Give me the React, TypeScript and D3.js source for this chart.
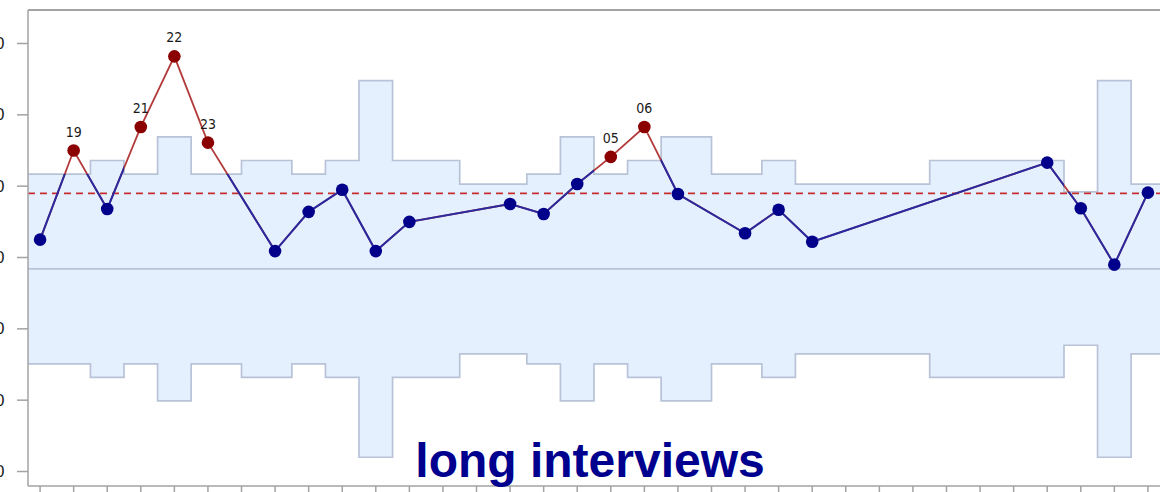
import React from 'react';
import * as d3 from 'd3';

// x position (period index) of each plotted point
const periodIndex = [0, 1, 2, 3, 4, 5, 7, 8, 9, 10, 11, 14, 15, 16, 17, 18, 19, 21, 22, 23, 30, 31, 32, 33];
// observed values
const values = [42.5, 55.0, 46.8, 58.3, 68.2, 56.1, 40.9, 46.4, 49.5, 40.9, 45.0, 47.5, 46.1, 50.3, 54.1, 58.3, 48.9, 43.4, 46.7, 42.2, 53.3, 46.9, 39.0, 49.1];
// upper / lower control limits per point
const ucl = [51.7, 51.7, 53.6, 51.7, 56.9, 51.7, 53.6, 51.7, 53.6, 64.8, 53.6, 50.3, 51.7, 56.9, 51.7, 53.6, 56.9, 51.7, 53.6, 50.3, 53.6, 49.2, 64.8, 50.3];
const lcl = [25.1, 25.1, 23.2, 25.1, 19.9, 25.1, 23.2, 25.1, 23.2, 12.0, 23.2, 26.5, 25.1, 19.9, 25.1, 23.2, 19.9, 25.1, 23.2, 26.5, 23.2, 27.7, 12.0, 26.5];
// labels shown next to out-of-control points
const pointLabels = ['', '19', '', '21', '22', '23', '', '', '', '', '', '', '', '', '05', '06', '', '', '', '', '', '', '', ''];
const centerLine = 38.4;
const targetLine = 49.0;
const yTicks = [10, 20, 30, 40, 50, 60, 70];
const title = 'long interviews';

const W = 1160;
const H = 492;

export default function App() {
  const x = d3.scaleLinear().domain([-0.36, 33.36]).range([28, 1160]);
  const y = d3.scaleLinear().domain([10, 70]).range([471.5, 43.5]);

  const pts = periodIndex.map((p, i) => ({ p, v: values[i], u: ucl[i], l: lcl[i], lab: pointLabels[i] }));
  // extend the band to the frame edges
  const bandPts = [{ ...pts[0], p: -0.36 }, ...pts, { ...pts[pts.length - 1], p: 34.5 }];

  const area = d3.area<any>().curve(d3.curveStep).x(d => x(d.p)).y0(d => y(d.l)).y1(d => y(d.u));
  const upper = d3.line<any>().curve(d3.curveStep).x(d => x(d.p)).y(d => y(d.u));
  const lower = d3.line<any>().curve(d3.curveStep).x(d => x(d.p)).y(d => y(d.l));
  const line = d3.line<any>().x(d => x(d.p)).y(d => y(d.v));

  const bandPath = area(bandPts) || '';
  const xTicks = d3.range(0, 34);

  return (
    <svg width={W} height={H} style={{ position: 'absolute', left: 0, top: 0, background: '#fff' }}
      fontFamily="'Liberation Sans', Arial, sans-serif">
      <defs>
        <clipPath id="band">
          <path d={bandPath} />
        </clipPath>
      </defs>

      <path d={bandPath} fill="#e5f0fe" />
      <path d={upper(bandPts) || ''} fill="none" stroke="#b8c3d8" strokeWidth={1.7} />
      <path d={lower(bandPts) || ''} fill="none" stroke="#b8c3d8" strokeWidth={1.7} />
      <line x1={28} x2={W} y1={y(centerLine)} y2={y(centerLine)} stroke="#b8c3d8" strokeWidth={1.7} />
      <line x1={28} x2={W} y1={y(targetLine)} y2={y(targetLine)} stroke="#c62e2e" strokeWidth={1.8} strokeDasharray="7,5" />

      {/* out-of-limit parts in red, in-limit parts in blue */}
      <path d={line(pts) || ''} fill="none" stroke="#b23a3a" strokeWidth={1.8} />
      <path d={line(pts) || ''} fill="none" stroke="#2a2aa0" strokeWidth={2} clipPath="url(#band)" />

      {pts.map((d, i) => (
        <circle key={i} cx={x(d.p)} cy={y(d.v)} r={6.3} fill={d.v > d.u ? '#8b0000' : '#00008b'} />
      ))}
      {pts.filter(d => d.lab).map((d, i) => (
        <text key={i} x={x(d.p)} y={y(d.v) - 14} textAnchor="middle" fontSize={14}
          fontFamily="'Liberation Sans Narrow', 'Arial Narrow', 'DejaVu Sans Condensed', sans-serif" fill="#1a1a1a">
          {d.lab}
        </text>
      ))}

      {/* frame and axes */}
      <line x1={28} x2={W} y1={10} y2={10} stroke="#a3a3a3" strokeWidth={2} />
      <line x1={28} x2={28} y1={10} y2={486} stroke="#a3a3a3" strokeWidth={1.5} />
      <line x1={28} x2={W} y1={486} y2={486} stroke="#a3a3a3" strokeWidth={1.5} />
      {yTicks.map(t => (
        <g key={t}>
          <line x1={17} x2={28} y1={y(t)} y2={y(t)} stroke="#a3a3a3" strokeWidth={1.5} />
          <text x={4.5} y={y(t)} textAnchor="end" dominantBaseline="central" fontSize={17} fill="#222">{t}</text>
        </g>
      ))}
      {xTicks.map(t => (
        <line key={t} x1={x(t)} x2={x(t)} y1={486} y2={494} stroke="#a3a3a3" strokeWidth={1.5} />
      ))}

      <text x={590} y={477} textAnchor="middle" fontSize={48} fontWeight="bold" fill="#00008f">{title}</text>
    </svg>
  );
}
